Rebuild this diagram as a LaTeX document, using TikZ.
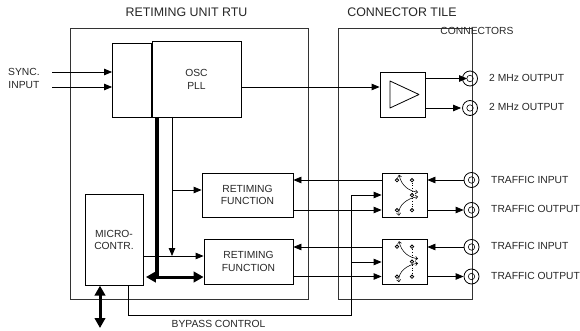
\documentclass[tikz,border=0pt]{standalone}
\usepackage{fontspec}
\setmainfont{Liberation Sans}
\usetikzlibrary{arrows.meta,calc}
\tikzset{
  box/.style={draw=black,line width=.8pt,inner sep=0pt,align=center,text=black!85,font=\fontsize{10.3}{12.8}\selectfont},
  frame/.style={draw=black!80,line width=.8pt,inner sep=0pt},
  lab/.style={inner sep=0pt,text=black!85,font=\fontsize{10.3}{12.8}\selectfont,align=left},
  head/.style={inner sep=0pt,text=black!85,font=\fontsize{12.4}{14}\selectfont},
  conn/.style={draw=black,line width=.8pt,circle,minimum size=15pt,inner sep=0pt},
  wire/.style={draw=black,line width=.8pt},
  arr/.style={wire,-{Triangle[length=8pt,width=6.5pt]}},
  bus/.style={draw=black,line width=3pt,{Triangle[length=10pt,width=10.5pt]}-{Triangle[length=10pt,width=10.5pt]}},
  swdot/.style={draw=black,line width=.8pt,fill=white,circle,minimum size=3.4pt,inner sep=0pt},
  swarc/.style={draw=black,line width=.55pt,{Straight Barb[length=2.2pt,width=4pt]}-{Straight Barb[length=2.2pt,width=4pt]}}
}
\begin{document}
\begin{tikzpicture}[x=1pt,y=-1pt]
\useasboundingbox (0,0) rectangle (580,331);
% frames
\node[frame,minimum width=238pt,minimum height=271pt] (rtu) at (189,163.5) {};
\node[frame,minimum width=134pt,minimum height=271pt] (tile) at (405,163.5) {};
\node[head] (trtu) at (186.5,12.5) {RETIMING UNIT RTU};
\node[head] (ttile) at (402,12.5) {CONNECTOR TILE};
\node[lab] (tconn) at (477,31) {CONNECTORS};
% blocks
\node[box,minimum width=39pt,minimum height=74pt] (sync) at (132,80) {};
\node[box,minimum width=89pt,minimum height=75.5pt] (osc) at (196.5,79.2) {OSC\\PLL};
\node[box,minimum width=45pt,minimum height=45pt] (amp) at (402.5,94.5) {};
\node[box,minimum width=91pt,minimum height=44pt] (ret1) at (247.5,195) {RETIMING\\FUNCTION};
\node[box,minimum width=89pt,minimum height=44.5pt] (ret2) at (248.5,261.7) {RETIMING\\FUNCTION};
\node[box,minimum width=58pt,minimum height=90.5pt] (mc) at (114,240) {MICRO-\\CONTR.};
\node[box,minimum width=45pt,minimum height=44.5pt] (sw1) at (404.5,195.2) {};
\node[box,minimum width=45pt,minimum height=44.5pt] (sw2) at (404.5,261.7) {};
% amplifier triangle
\draw[wire,line join=round] (390,81) -- (390,108) -- (419,94.5) -- cycle;
% connectors
\node[conn] (c1) at (470,78.5) {};
\node[conn] (c2) at (470,108) {};
\node[conn] (c3) at (471.5,180) {};
\node[conn] (c4) at (471.5,210) {};
\node[conn] (c5) at (471.5,247) {};
\node[conn] (c6) at (471.5,276.5) {};
\foreach \c in {c1,c2,c3,c4,c5,c6} \draw[draw=black,line width=.6pt] (\c.center) circle (3.2pt);
% labels
\node[lab,anchor=west] (l1) at (489,78) {2 MHz OUTPUT};
\node[lab,anchor=west] (l2) at (489,107) {2 MHz OUTPUT};
\node[lab,anchor=west] (l3) at (491,180) {TRAFFIC INPUT};
\node[lab,anchor=west] (l4) at (491,209) {TRAFFIC OUTPUT};
\node[lab,anchor=west] (l5) at (491,246) {TRAFFIC INPUT};
\node[lab,anchor=west] (l6) at (491,276) {TRAFFIC OUTPUT};
\node[lab,align=center,anchor=west] (si) at (8,78.5) {SYNC.\\INPUT};
\node[lab] (bp) at (218.5,324) {BYPASS CONTROL};
% sync inputs
\coordinate (s1) at (52,72);
\coordinate (s2) at (52,87);
\draw[arr] (s1) -- (s1 -| sync.west);
\draw[arr] (s2) -- (s2 -| sync.west);
% PLL to amp
\coordinate (a0) at (241,87);
\draw[arr] (a0 -| osc.east) -- (a0 -| amp.west);
% amp to outputs
\draw[arr,shorten >=-5pt] (amp.east |- c1) -- (c1.west);
\draw[arr,shorten >=1pt] (amp.east |- c2) -- (c2.west);
% PLL clock distribution
\coordinate (k0) at (172,117);
\coordinate (k1) at (172,190);
\coordinate (k2) at (172,256);
\draw[arr] (k0) -- (k2);
\draw[arr] (k1) -- (k1 -| ret1.west);
\draw[arr] (k2 -| mc.east) -- (k2 -| ret2.west);
% buses
\coordinate (b0) at (157,117);
\coordinate (b1) at (157,277);
\draw[bus,shorten <=2.5pt] (b1 -| mc.east) -- (b1 -| ret2.west);
\draw[draw=black,line width=3.6pt] (b0) -- (b1);
\coordinate (m0) at (100,328);
\draw[bus] (m0 |- mc.south) -- (m0);
% traffic
\draw[arr] (sw1.west |- c3) -- (ret1.east |- c3);
\draw[arr] (ret1.east |- c4) -- (sw1.west |- c4);
\draw[arr] (c3.west) -- (sw1.east |- c3);
\draw[arr] (sw1.east |- c4) -- (c4.west);
\draw[arr] (sw2.west |- c5) -- (ret2.east |- c5);
\draw[arr] (ret2.east |- c6) -- (sw2.west |- c6);
\draw[arr] (c5.west) -- (sw2.east |- c5);
\draw[arr] (sw2.east |- c6) -- (c6.west);
% bypass control
\coordinate (p0) at (128,285.5);
\coordinate (p1) at (128,315);
\coordinate (p2) at (351.5,315);
\coordinate (p3) at (351.5,195);
\coordinate (p4) at (351.5,262);
\draw[wire] (p0) -- (p1) -- (p2) -- (p3);
\draw[arr] (p3) -- (p3 -| sw1.west);
\draw[arr] (p4) -- (p4 -| sw2.west);
% switch internals
\foreach \s in {sw1,sw2} {
\begin{scope}[shift={(\s.center)}]
  \draw[draw=black,line width=.6pt,dotted] (7.5,-15) -- (7.5,15);
  \draw[swarc] (-5.5,-20.5) .. controls (-3,-9) and (5,-4) .. (13.5,-3);
  \draw[swarc] (-5.5,20.5) .. controls (-7,10) and (3,3) .. (13.5,1.5);
  \node[swdot] (\s a) at (-7.5,-15) {};
  \node[swdot] (\s b) at (7.5,-15) {};
  \node[swdot] (\s c) at (7.5,0) {};
  \node[swdot] (\s d) at (-7.5,15) {};
  \node[swdot] (\s e) at (7.5,15) {};
\end{scope}}
\end{tikzpicture}
\end{document}
